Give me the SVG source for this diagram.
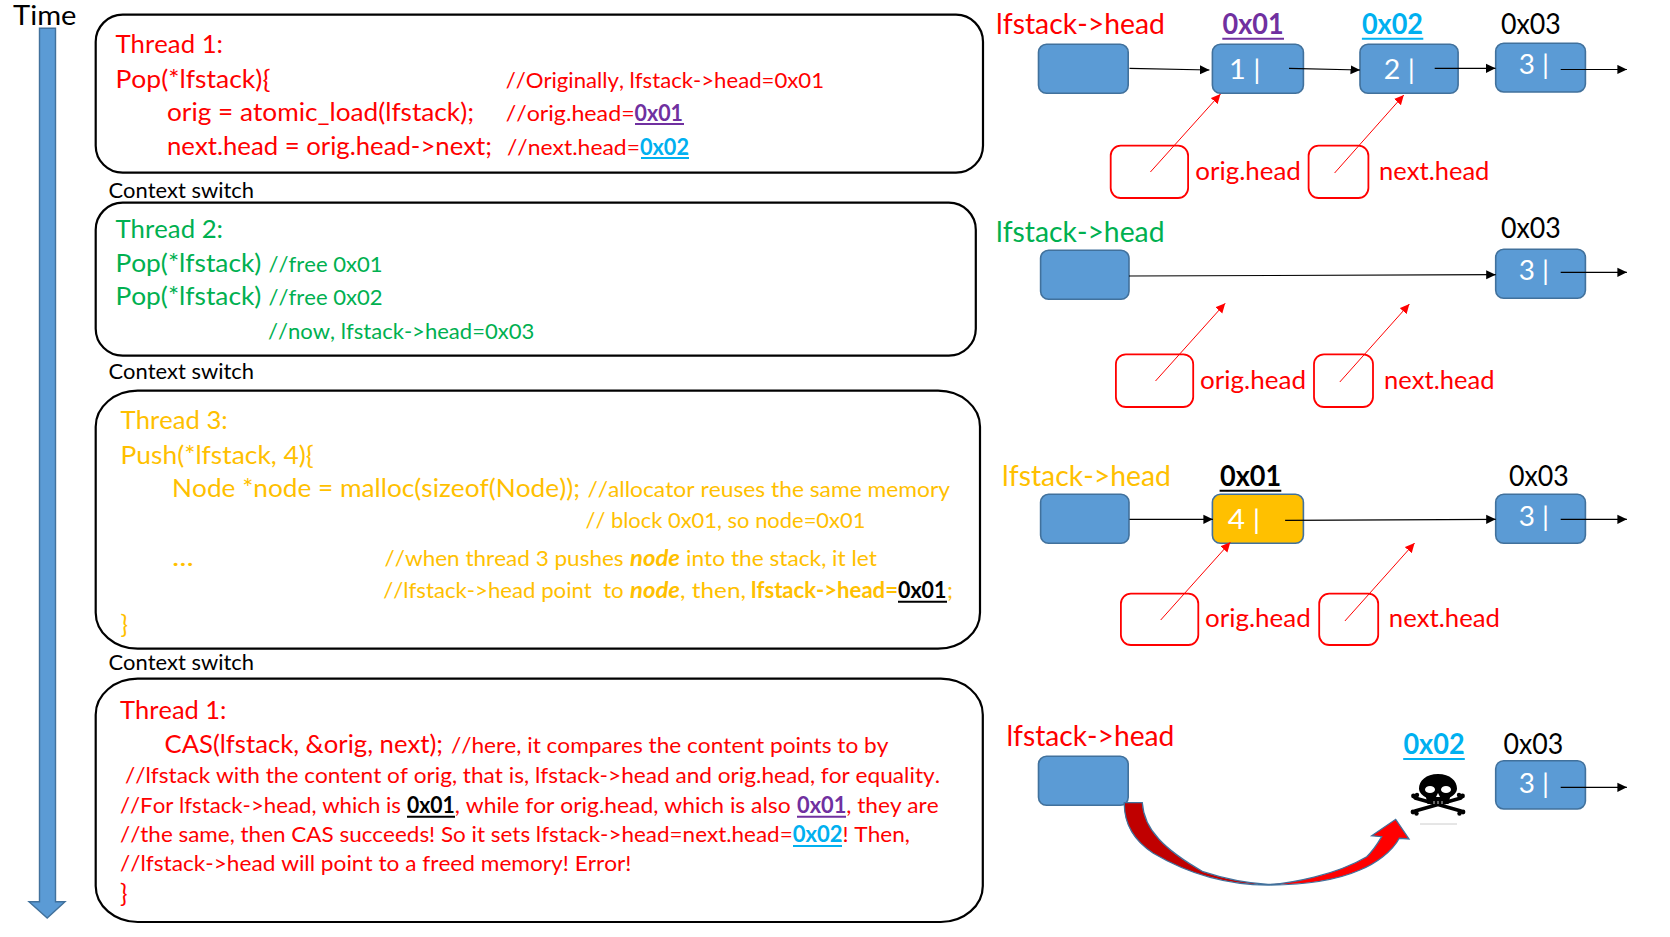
<svg xmlns="http://www.w3.org/2000/svg" width="1670" height="937" viewBox="0 0 1670 937">
<style>
text{font-family:Lato,"Liberation Sans",sans-serif;white-space:pre;font-kerning:none}
.l{font-size:25px}.c{font-size:22px}.h{font-size:28px}.o{font-size:25px}.n{font-size:27px;fill:#fff}
.r{fill:#f00}.g{fill:#00B050}.y{fill:#FFC000}.k{fill:#000}.p{fill:#7030A0}.b{fill:#00B0F0}
.B{font-weight:700}.I{font-style:italic;font-weight:700}
.panel{fill:#fff;stroke:#000;stroke-width:2.2}
.box{fill:#5B9BD5;stroke:#41719C;stroke-width:1.6}
.gold{fill:#FFC000;stroke:#41719C;stroke-width:1.6}
.ptr{fill:#fff;stroke:#f00;stroke-width:1.8}
.ak{stroke:#000;stroke-width:1.2;fill:none;marker-end:url(#mk)}
.ar{stroke:#f00;stroke-width:1;fill:none;marker-end:url(#mr)}
.ul{stroke-width:2;fill:none}
</style>
<defs>
<marker id="mk" markerUnits="userSpaceOnUse" markerWidth="11" markerHeight="11" refX="9.5" refY="5" orient="auto"><path d="M0 0.4L9.5 5L0 9.6Z" fill="#000"/></marker>
<marker id="mr" markerUnits="userSpaceOnUse" markerWidth="11" markerHeight="11" refX="9.5" refY="5" orient="auto"><path d="M0 0.4L9.5 5L0 9.6Z" fill="#f00"/></marker>
</defs>

<g id="time">
<path d="M39.5 28.3H55.5V901.7H65L47.2 918L29 901.7H39.5Z" fill="#5B9BD5" stroke="#41719C" stroke-width="1.4"/>
<text x="13" y="24.8" textLength="63.5" lengthAdjust="spacingAndGlyphs" style="font-size:26px">Time</text>
</g>

<g id="panel-thread1a">
<rect class="panel" x="95.7" y="14.7" width="887.3" height="158" rx="27" ry="27"/>
<text y="53.3" class="l r"><tspan x="115.4" textLength="107.6" lengthAdjust="spacingAndGlyphs">Thread 1:</tspan></text>
<text y="87.5" class="l r"><tspan x="115.4" textLength="155" lengthAdjust="spacingAndGlyphs">Pop(*lfstack){</tspan> <tspan x="505.7" class="c" textLength="318.3" lengthAdjust="spacingAndGlyphs">//Originally, lfstack-&gt;head=0x01</tspan></text>
<text y="121" class="l r"><tspan x="167" textLength="307" lengthAdjust="spacingAndGlyphs">orig = atomic_load(lfstack);</tspan> <tspan x="505.7" class="c" textLength="128.9" lengthAdjust="spacingAndGlyphs">//orig.head=</tspan><tspan x="634.6" class="c p B" textLength="48.4" lengthAdjust="spacingAndGlyphs">0x01</tspan></text>
<text y="155" class="l r"><tspan x="167" textLength="325" lengthAdjust="spacingAndGlyphs">next.head = orig.head-&gt;next;</tspan> <tspan x="507" class="c" textLength="133" lengthAdjust="spacingAndGlyphs">//next.head=</tspan><tspan x="640" class="c b B" textLength="49" lengthAdjust="spacingAndGlyphs">0x02</tspan></text>
<path class="ul" stroke="#7030A0" d="M635 124H684"/>
<path class="ul" stroke="#00B0F0" d="M641 158H689"/>
</g>
<text x="108.4" y="198.3" class="c" textLength="145.6" lengthAdjust="spacingAndGlyphs">Context switch</text>

<g id="panel-thread2">
<rect class="panel" x="95.7" y="202.7" width="880.1" height="153" rx="27" ry="27"/>
<text y="238" class="l g"><tspan x="115.4" textLength="107.6" lengthAdjust="spacingAndGlyphs">Thread 2:</tspan></text>
<text y="272" class="l g"><tspan x="115.4" textLength="146" lengthAdjust="spacingAndGlyphs">Pop(*lfstack)</tspan> <tspan x="268.5" class="c" textLength="114.2" lengthAdjust="spacingAndGlyphs">//free 0x01</tspan></text>
<text y="305" class="l g"><tspan x="115.4" textLength="146" lengthAdjust="spacingAndGlyphs">Pop(*lfstack)</tspan> <tspan x="268.5" class="c" textLength="114.2" lengthAdjust="spacingAndGlyphs">//free 0x02</tspan></text>
<text x="268" y="338.7" class="c g" textLength="266.4" lengthAdjust="spacingAndGlyphs">//now, lfstack-&gt;head=0x03</text>
</g>
<text x="108.4" y="379.3" class="c" textLength="145.6" lengthAdjust="spacingAndGlyphs">Context switch</text>

<g id="panel-thread3">
<rect class="panel" x="95.7" y="390.7" width="884.3" height="258" rx="42" ry="36"/>
<text x="120.5" y="428.7" class="l y" textLength="107.2" lengthAdjust="spacingAndGlyphs">Thread 3:</text>
<text x="120.5" y="463.7" class="l y" textLength="193.3" lengthAdjust="spacingAndGlyphs">Push(*lfstack, 4){</text>
<text y="496.8" class="l y"><tspan x="172" textLength="408" lengthAdjust="spacingAndGlyphs">Node *node = malloc(sizeof(Node));</tspan> <tspan x="587.4" class="c" textLength="362.6" lengthAdjust="spacingAndGlyphs">//allocator reuses the same memory</tspan></text>
<text x="585.5" y="527.5" class="c y" textLength="279.9" lengthAdjust="spacingAndGlyphs">// block 0x01, so node=0x01</text>
<text y="565.7" class="l y"><tspan x="172" textLength="21.9" lengthAdjust="spacingAndGlyphs">...</tspan> <tspan x="384.6" class="c" textLength="239" lengthAdjust="spacingAndGlyphs">//when thread 3 pushes</tspan> <tspan x="630" class="c I" textLength="50" lengthAdjust="spacingAndGlyphs">node</tspan> <tspan x="686" class="c" textLength="191" lengthAdjust="spacingAndGlyphs">into the stack, it let</tspan></text>
<text y="598" class="c y"><tspan x="383.3" textLength="240.4" lengthAdjust="spacingAndGlyphs">//lfstack-&gt;head point  to</tspan> <tspan x="630" class="I" textLength="50" lengthAdjust="spacingAndGlyphs">node</tspan><tspan x="680" textLength="66" lengthAdjust="spacingAndGlyphs">, then,</tspan> <tspan x="751" class="B" textLength="147" lengthAdjust="spacingAndGlyphs">lfstack-&gt;head=</tspan><tspan x="898" class="k B" textLength="48.4" lengthAdjust="spacingAndGlyphs">0x01</tspan><tspan x="947" textLength="6" lengthAdjust="spacingAndGlyphs">;</tspan></text>
<path class="ul" stroke="#000" d="M898 601.7H947"/>
<text x="120.5" y="632.5" class="l y">}</text>
</g>
<text x="108.4" y="670" class="c" textLength="145.6" lengthAdjust="spacingAndGlyphs">Context switch</text>

<g id="panel-thread1b">
<rect class="panel" x="95.7" y="678.7" width="887.1" height="243.3" rx="42" ry="36"/>
<text x="120" y="718.7" class="l r" textLength="106.4" lengthAdjust="spacingAndGlyphs">Thread 1:</text>
<text y="753.3" class="l r"><tspan x="164.5" textLength="278.5" lengthAdjust="spacingAndGlyphs">CAS(lfstack, &amp;orig, next);</tspan> <tspan x="451" class="c" textLength="437.4" lengthAdjust="spacingAndGlyphs">//here, it compares the content points to by</tspan></text>
<text x="125" y="783.3" class="c r" textLength="815" lengthAdjust="spacingAndGlyphs">//lfstack with the content of orig, that is, lfstack-&gt;head and orig.head, for equality.</text>
<text y="813" class="c r"><tspan x="120" textLength="281" lengthAdjust="spacingAndGlyphs">//For lfstack-&gt;head, which is</tspan> <tspan x="406.9" class="k B" textLength="47.8" lengthAdjust="spacingAndGlyphs">0x01</tspan><tspan x="454.7" textLength="336" lengthAdjust="spacingAndGlyphs">, while for orig.head, which is also</tspan> <tspan x="797" class="p B" textLength="49.3" lengthAdjust="spacingAndGlyphs">0x01</tspan><tspan x="846.3" textLength="92.5" lengthAdjust="spacingAndGlyphs">, they are</tspan></text>
<text y="841.7" class="c r"><tspan x="120" textLength="672.7" lengthAdjust="spacingAndGlyphs">//the same, then CAS succeeds! So it sets lfstack-&gt;head=next.head=</tspan><tspan x="792.7" class="b B" textLength="49.8" lengthAdjust="spacingAndGlyphs">0x02</tspan><tspan x="842.5" textLength="67.5" lengthAdjust="spacingAndGlyphs">! Then,</tspan></text>
<text x="120" y="870.7" class="c r" textLength="511.4" lengthAdjust="spacingAndGlyphs">//lfstack-&gt;head will point to a freed memory! Error!</text>
<text x="120" y="901.7" class="l r">}</text>
<path class="ul" stroke="#000" d="M407 816.7H455"/>
<path class="ul" stroke="#7030A0" d="M797 816.7H846"/>
<path class="ul" stroke="#00B0F0" d="M793 846H842"/>
</g>

<g id="row1">
<text x="996" y="34.3" class="h r" textLength="169" lengthAdjust="spacingAndGlyphs">lfstack-&gt;head</text>
<rect id="r1-head" class="box" x="1038.5" y="44.3" width="89.7" height="49" rx="8"/>
<g id="r1-n1"><rect class="box" x="1212.4" y="44.3" width="91" height="49" rx="8"/><text x="1229" y="79" class="n" textLength="31.4" lengthAdjust="spacingAndGlyphs">1 |</text></g>
<g id="r1-n2"><rect class="box" x="1360" y="44.3" width="98.1" height="49" rx="8"/><text x="1383.8" y="79" class="n" textLength="31" lengthAdjust="spacingAndGlyphs">2 |</text></g>
<g id="r1-n3"><rect class="box" x="1495.7" y="43.3" width="89.7" height="48.7" rx="8"/><text x="1518.8" y="74" class="n" textLength="30.3" lengthAdjust="spacingAndGlyphs">3 |</text></g>
<text x="1222.6" y="34.3" class="h p B" textLength="61.1" lengthAdjust="spacingAndGlyphs">0x01</text><path class="ul" stroke="#7030A0" d="M1222.3 38.7H1284"/>
<text x="1361.9" y="34.3" class="h b B" textLength="61.1" lengthAdjust="spacingAndGlyphs">0x02</text><path class="ul" stroke="#00B0F0" d="M1361.9 38.7H1423.3"/>
<text x="1500.9" y="34.3" class="h" textLength="59.8" lengthAdjust="spacingAndGlyphs">0x03</text>
<rect id="r1-orig" class="ptr" x="1110.7" y="145.7" width="77.4" height="52.3" rx="10"/>
<rect id="r1-next" class="ptr" x="1308.6" y="145.7" width="59.8" height="52.3" rx="10"/>
<text x="1195.3" y="180" class="o r" textLength="105.6" lengthAdjust="spacingAndGlyphs">orig.head</text>
<text x="1379.1" y="180" class="o r" textLength="110.3" lengthAdjust="spacingAndGlyphs">next.head</text>
</g>

<g id="row2">
<text x="996" y="242" class="h g" textLength="168.5" lengthAdjust="spacingAndGlyphs">lfstack-&gt;head</text>
<rect id="r2-head" class="box" x="1040.6" y="250.3" width="88.4" height="49" rx="8"/>
<g id="r2-n3"><rect class="box" x="1495.7" y="249.3" width="89.7" height="49" rx="8"/><text x="1518.8" y="279.7" class="n" textLength="30.3" lengthAdjust="spacingAndGlyphs">3 |</text></g>
<text x="1500.9" y="238" class="h" textLength="59.8" lengthAdjust="spacingAndGlyphs">0x03</text>
<rect id="r2-orig" class="ptr" x="1115.9" y="354.3" width="77.3" height="52.7" rx="10"/>
<rect id="r2-next" class="ptr" x="1314" y="354.3" width="59" height="52.7" rx="10"/>
<text x="1200" y="389" class="o r" textLength="106" lengthAdjust="spacingAndGlyphs">orig.head</text>
<text x="1384.1" y="389" class="o r" textLength="110.4" lengthAdjust="spacingAndGlyphs">next.head</text>
</g>

<g id="row3">
<text x="1002" y="486" class="h y" textLength="169" lengthAdjust="spacingAndGlyphs">lfstack-&gt;head</text>
<rect id="r3-head" class="box" x="1040.6" y="494.3" width="88.4" height="49" rx="8"/>
<g id="r3-n4"><rect class="gold" x="1212.4" y="494.3" width="91" height="49" rx="8"/><text x="1227.8" y="529" class="n" textLength="32.4" lengthAdjust="spacingAndGlyphs">4 |</text></g>
<g id="r3-n3"><rect class="box" x="1495.7" y="494.3" width="89.7" height="49" rx="8"/><text x="1518.8" y="526" class="n" textLength="30.3" lengthAdjust="spacingAndGlyphs">3 |</text></g>
<text x="1220" y="486" class="h k B" textLength="61.1" lengthAdjust="spacingAndGlyphs">0x01</text><path class="ul" stroke="#000" d="M1219.6 490.7H1281.3"/>
<text x="1509" y="486" class="h" textLength="59.8" lengthAdjust="spacingAndGlyphs">0x03</text>
<rect id="r3-orig" class="ptr" x="1120.9" y="593.7" width="77.4" height="51.3" rx="10"/>
<rect id="r3-next" class="ptr" x="1319.2" y="593.7" width="59" height="51.3" rx="10"/>
<text x="1205.1" y="626.7" class="o r" textLength="105.6" lengthAdjust="spacingAndGlyphs">orig.head</text>
<text x="1388.8" y="626.7" class="o r" textLength="111.2" lengthAdjust="spacingAndGlyphs">next.head</text>
</g>

<g id="row4">
<text x="1006.4" y="746" class="h r" textLength="168" lengthAdjust="spacingAndGlyphs">lfstack-&gt;head</text>
<rect id="r4-head" class="box" x="1038.5" y="756.3" width="89.7" height="49" rx="8"/>
<g id="r4-n3"><rect class="box" x="1495.7" y="760.7" width="89.7" height="48.3" rx="8"/><text x="1518.8" y="792.5" class="n" textLength="30.3" lengthAdjust="spacingAndGlyphs">3 |</text></g>
<text x="1403.4" y="754" class="h b B" textLength="61.2" lengthAdjust="spacingAndGlyphs">0x02</text><path class="ul" stroke="#00B0F0" d="M1403.2 759H1464.8"/>
<text x="1503.5" y="754" class="h" textLength="59.8" lengthAdjust="spacingAndGlyphs">0x03</text>
<g id="skull">
<path d="M1415 798L1461 811M1461 798L1415 811" stroke="#000" stroke-width="3.4" stroke-linecap="round"/>
<circle cx="1413.5" cy="796" r="2.4"/><circle cx="1417" cy="795" r="2.2"/><circle cx="1413" cy="812" r="2.4"/><circle cx="1416.5" cy="813.5" r="2.2"/>
<circle cx="1462.5" cy="796" r="2.4"/><circle cx="1459" cy="795" r="2.2"/><circle cx="1463" cy="812" r="2.4"/><circle cx="1459.5" cy="813.5" r="2.2"/>
<path d="M1438 774C1450 774 1457 781 1457 788.5C1457 793 1453 795.5 1450 797.5L1448.5 804H1427.5L1426 797.5C1423 795.5 1419 793 1419 788.5C1419 781 1426 774 1438 774Z" fill="#000"/>
<ellipse cx="1430" cy="789.5" rx="5" ry="3.6" fill="#fff"/><ellipse cx="1446" cy="789.5" rx="5" ry="3.6" fill="#fff"/>
<path d="M1438 793L1436 797H1440Z" fill="#fff"/>
<path d="M1434 801V804M1438 801V804M1442 801V804" stroke="#fff" stroke-width="0.8"/>
<path d="M1420 824H1457" stroke="#ccc" stroke-width="1"/>
</g>
<g id="curved-arrow">
<path d="M1124.3 802.7H1142.3C1144 830 1165 850 1203 871.7C1222 878 1245 883 1268 884.5C1230 885 1190 875 1153.3 853.3C1130 838 1124 820 1124.3 802.7Z" fill="#C00000"/>
<path d="M1268 884.5C1290 883.5 1336 875 1366.7 856.7C1373 851 1378 843 1381.7 836.7L1371.7 835.7L1395.7 819.3L1409 839L1399.3 838.3C1392 852 1375 864 1360 870C1335 881 1300 885 1268 884.5Z" fill="#f00"/>
<path d="M1124.3 802.7H1142.3C1144 830 1165 850 1203 871.7C1222 878 1245 883 1268 884.5C1290 883.5 1336 875 1366.7 856.7C1373 851 1378 843 1381.7 836.7L1371.7 835.7L1395.7 819.3L1409 839L1399.3 838.3C1392 852 1375 864 1360 870C1335 881 1300 885 1268 885.2C1230 885 1190 875 1153.3 853.3C1130 838 1124 820 1124.3 802.7Z" fill="none" stroke="#41719C" stroke-width="1.3"/>
</g>
</g>

<g id="connectors">
<path class="ak" d="M1129.5 68.3L1209.4 70"/>
<path class="ak" d="M1289 68.3L1360 70"/>
<path class="ak" d="M1434.7 68.3H1495.5"/>
<path class="ak" d="M1560.7 69.5H1626.9"/>
<path class="ar" d="M1150.4 172L1220.5 94"/>
<path class="ar" d="M1334.6 173L1403.8 95"/>
<path class="ak" d="M1129 276L1495.7 274.7"/>
<path class="ak" d="M1560.7 272.3H1626.9"/>
<path class="ar" d="M1155.5 381L1225.2 303.3"/>
<path class="ar" d="M1339.8 382L1409.4 304"/>
<path class="ak" d="M1129.5 519.3H1212.9"/>
<path class="ak" d="M1285.1 520.3L1495.7 519.3"/>
<path class="ak" d="M1560.7 519.3H1626.9"/>
<path class="ar" d="M1160.7 620L1230.3 542.3"/>
<path class="ar" d="M1344.9 621L1414.6 543"/>
<path class="ak" d="M1560.7 787.3H1626.9"/>
</g>
</svg>
